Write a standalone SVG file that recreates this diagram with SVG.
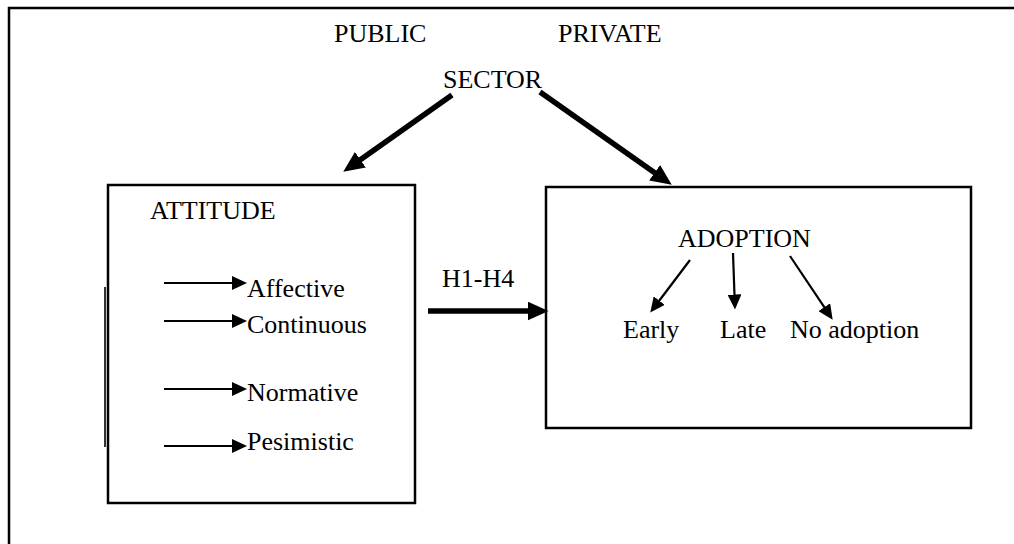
<svg xmlns="http://www.w3.org/2000/svg" width="1014" height="544" viewBox="0 0 1014 544">
<style>
text{font-family:"Liberation Serif","Times New Roman",serif;font-size:26px;fill:#000}
.box{fill:none;stroke:#000;stroke-width:2.5}
.thick{stroke:#000;stroke-width:5.5;fill:none}
.thin{stroke:#000;stroke-width:2.2;fill:none}
</style>
<defs>
<marker id="big" markerUnits="userSpaceOnUse" markerWidth="21" markerHeight="19" viewBox="0 0 21 19" refX="0.5" refY="9.5" orient="auto"><path d="M0,0 L21,9.5 L0,19 z" fill="#000"/></marker>
<marker id="small" markerUnits="userSpaceOnUse" markerWidth="15" markerHeight="14" viewBox="0 0 15 14" refX="0.5" refY="7" orient="auto"><path d="M0,0 L15,7 L0,14 z" fill="#000"/></marker>
</defs>
<rect width="1014" height="544" fill="#fff"/>
<g id="frame"><path d="M9,546 V8 H1016" class="box"/></g>
<g id="sector">
<text x="334" y="42">PUBLIC</text>
<text x="558" y="42">PRIVATE</text>
<text x="443" y="88">SECTOR</text>
</g>
<g id="attitude">
<rect x="108" y="185" width="307" height="318" class="box"/>
<line x1="105" y1="287" x2="105" y2="447" stroke="#333" stroke-width="2"/>
<text x="150" y="219">ATTITUDE</text>
<text x="247" y="297">Affective</text>
<text x="247" y="333">Continuous</text>
<text x="247" y="401">Normative</text>
<text x="247" y="450">Pesimistic</text>
</g>
<g id="adoption">
<rect x="546" y="187" width="425" height="241" class="box"/>
<text x="678" y="247">ADOPTION</text>
<text x="623" y="338">Early</text>
<text x="720" y="338">Late</text>
<text x="790" y="338">No adoption</text>
</g>
<g id="h1h4"><text x="442" y="287">H1-H4</text></g>
<g id="connectors">
<line x1="452" y1="95" x2="360" y2="160" class="thick" marker-end="url(#big)"/>
<line x1="540" y1="92" x2="655" y2="173" class="thick" marker-end="url(#big)"/>
<line x1="428" y1="311" x2="528" y2="311" class="thick" marker-end="url(#big)"/>
<line x1="164" y1="283" x2="232.5" y2="283" class="thin" marker-end="url(#small)"/>
<line x1="164" y1="321" x2="232.5" y2="321" class="thin" marker-end="url(#small)"/>
<line x1="164" y1="389" x2="232.5" y2="389" class="thin" marker-end="url(#small)"/>
<line x1="164" y1="446" x2="232.5" y2="446" class="thin" marker-end="url(#small)"/>
<line x1="690" y1="260" x2="659" y2="301" class="thin" marker-end="url(#small)"/>
<line x1="733" y1="253" x2="734.5" y2="295" class="thin" marker-end="url(#small)"/>
<line x1="790" y1="256" x2="824.6" y2="307.6" class="thin" marker-end="url(#small)"/>
</g>
</svg>
